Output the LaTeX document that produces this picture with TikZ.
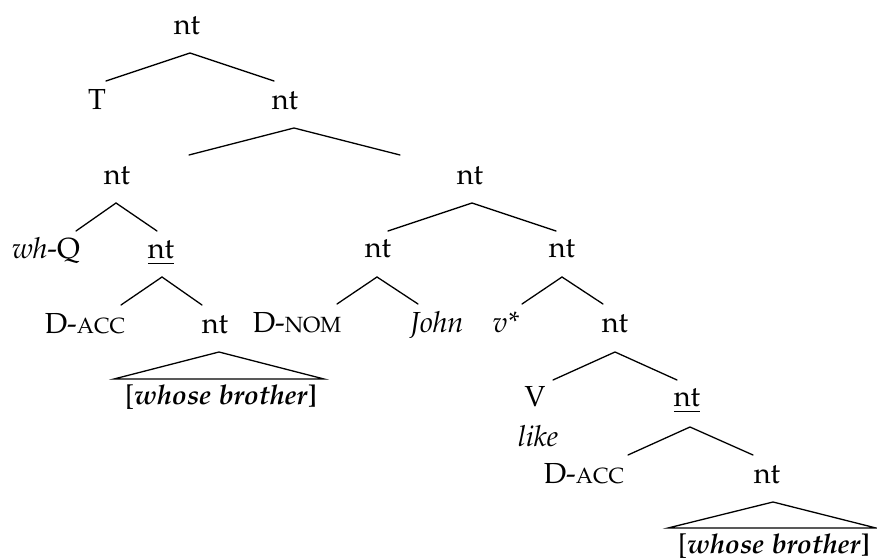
\documentclass[tikz,border=0pt]{standalone}
\usepackage[T1]{fontenc}
\usepackage[sc]{mathpazo}
\newcommand{\fakesc}[1]{{\fontsize{11}{13}\selectfont #1}}
\begin{document}
\begin{tikzpicture}[x=0.5pt,y=-0.5pt,
  lbl/.style={anchor=base,inner sep=0pt,font=\fontsize{14.5}{17}\selectfont},
  leaf/.style={lbl,font=\fontsize{13.6}{16}\selectfont},
  edge/.style={line width=0.65pt,line cap=round}]
\useasboundingbox (0,0) rectangle (877,560);
% labels
\node[lbl] (n0) at (187,35) {nt};
\node[lbl] (t) at (97,110) {T};
\node[lbl] (n1) at (285,110) {nt};
\node[lbl] (n2) at (117,185) {nt};
\node[lbl] (n3) at (470,185) {nt};
\node[lbl] (whq) at (46,259) {\textit{wh}-Q};
\node[lbl] (n4) at (161,259) {\underline{nt}};
\node[lbl] (n5) at (378,258) {nt};
\node[lbl] (n6) at (562,258) {nt};
\node[lbl] (dacc1) at (85,334) {D-\fakesc{ACC}};
\node[lbl] (n7) at (215,334) {nt};
\node[lbl] (dnom) at (297,333) {D-\fakesc{NOM}};
\node[lbl] (john) at (437,333) {\textit{John}};
\node[lbl] (vstar) at (506,333) {\textit{v*}};
\node[lbl] (n8) at (615,333) {nt};
\node[lbl] (v) at (535,407) {V};
\node[lbl] (like) at (538,446) {\textit{like}};
\node[lbl] (n9) at (687,407) {\underline{nt}};
\node[lbl] (dacc2) at (584,483) {D-\fakesc{ACC}};
\node[lbl] (n10) at (767,483) {nt};
\node[leaf] (wb1) at (221,405) {[\textbf{\textit{whose brother}]}};
\node[leaf] (wb2) at (774,553) {[\textbf{\textit{whose brother}]}};
% branch points
\coordinate (a0) at (190,53);  \coordinate (a0l) at (106,81);  \coordinate (a0r) at (274,81);
\coordinate (a1) at (294,128); \coordinate (a1l) at (189,155); \coordinate (a1r) at (400,155);
\coordinate (a2) at (116,203); \coordinate (a2l) at (76,231);  \coordinate (a2r) at (157,231);
\coordinate (a3) at (472,203); \coordinate (a3l) at (388,231); \coordinate (a3r) at (556,231);
\coordinate (a4) at (162,277); \coordinate (a4l) at (121,305); \coordinate (a4r) at (202,305);
\coordinate (a5) at (377,277); \coordinate (a5l) at (337,304); \coordinate (a5r) at (418,304);
\coordinate (a6) at (562,277); \coordinate (a6l) at (522,304); \coordinate (a6r) at (603,304);
\coordinate (a8) at (615,352); \coordinate (a8l) at (553,380); \coordinate (a8r) at (677,380);
\coordinate (a9) at (690,427); \coordinate (a9l) at (628,455); \coordinate (a9r) at (753,455);
\coordinate (a7) at (219,352); \coordinate (a7l) at (114,379); \coordinate (a7r) at (324,379);
\coordinate (a10) at (773,502); \coordinate (a10l) at (668,528); \coordinate (a10r) at (876,528);
\foreach \p in {a0,a1,a2,a3,a4,a5,a6,a8,a9}{
  \draw[edge] (\p l) -- (\p) -- (\p r);
}
\draw[edge] (a7l) -- (a7) -- (a7r) -- cycle;
\draw[edge] (a10l) -- (a10) -- (a10r) -- cycle;
\end{tikzpicture}
\end{document}
